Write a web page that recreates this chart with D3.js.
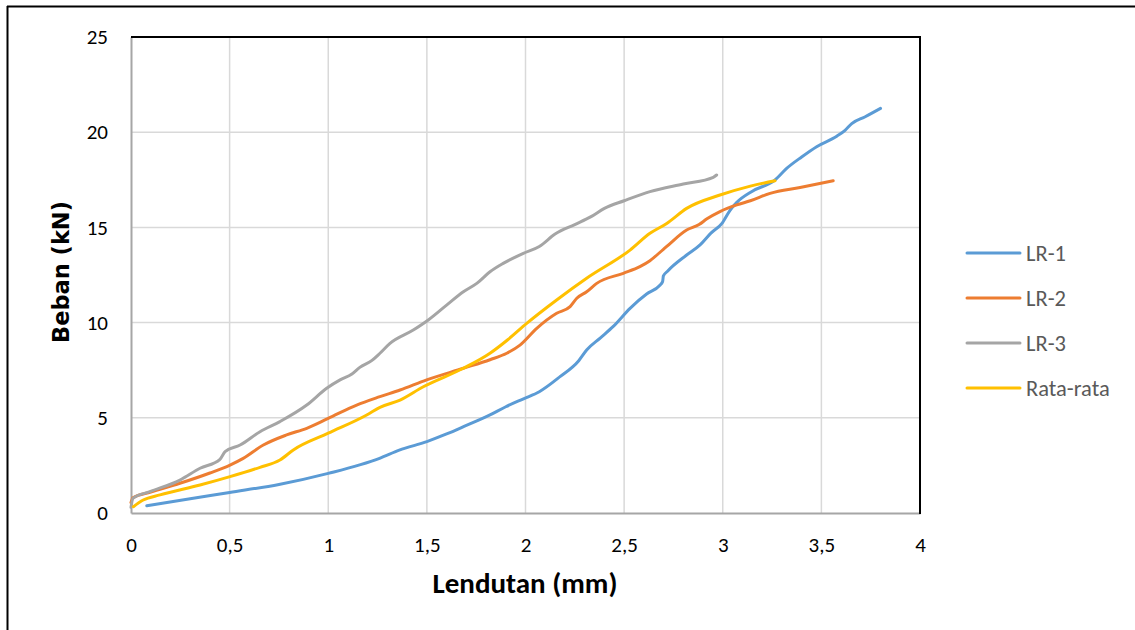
<!DOCTYPE html>
<html><head><meta charset="utf-8">
<script src="https://cdn.jsdelivr.net/npm/d3@7/dist/d3.min.js"></script>
<style>body{margin:0;background:#fff}svg{display:block}</style>
</head><body><svg id="c" width="1135" height="630"></svg>
<script>
const seriesNames = ["LR-1","LR-2","LR-3","Rata-rata"];
const seriesColors = ["#5B9BD5","#ED7D31","#A5A5A5","#FFC000"];
const xTicks = [0,0.5,1,1.5,2,2.5,3,3.5,4];
const yTicks = [0,5,10,15,20,25];
const lr1 = [[0.08,0.38],[0.3,0.75],[0.5,1.08],[0.75,1.5],[1.0,2.08],[1.26,2.87],[1.36,3.3],[1.5,3.75],[1.6,4.15],[1.7,4.6],[1.82,5.15],[1.9,5.58],[1.99,6.0],[2.07,6.37],[2.175,7.16],[2.27,8.0],[2.31,8.56],[2.38,9.2],[2.445,9.8],[2.53,10.75],[2.614,11.5],[2.68,11.95],[2.695,12.15],[2.699,12.45],[2.72,12.7],[2.817,13.55],[2.885,14.08],[2.94,14.7],[2.995,15.2],[3.037,15.9],[3.07,16.3],[3.15,16.9],[3.265,17.49],[3.324,18.1],[3.4,18.7],[3.476,19.24],[3.58,19.8],[3.62,20.1],[3.654,20.45],[3.72,20.8],[3.8,21.25]];
const lr2 = [[0.0,0.55],[0.01,0.8],[0.1,1.1],[0.248,1.56],[0.4,2.1],[0.502,2.52],[0.569,2.87],[0.671,3.57],[0.789,4.1],[0.891,4.45],[1.0,4.97],[1.144,5.67],[1.262,6.11],[1.364,6.46],[1.499,6.99],[1.685,7.6],[1.82,8.05],[1.905,8.39],[1.972,8.82],[2.057,9.7],[2.158,10.49],[2.226,10.84],[2.26,11.28],[2.31,11.62],[2.361,12.06],[2.496,12.59],[2.58,12.94],[2.631,13.25],[2.699,13.85],[2.716,14.0],[2.817,14.86],[2.88,15.15],[2.92,15.45],[2.986,15.83],[3.071,16.18],[3.14,16.4],[3.24,16.79],[3.392,17.1],[3.56,17.45]];
const lr3 = [[0.0,0.3],[0.01,0.77],[0.096,1.12],[0.248,1.73],[0.35,2.35],[0.451,2.82],[0.477,3.22],[0.553,3.57],[0.654,4.27],[0.755,4.8],[0.891,5.67],[0.992,6.55],[1.06,6.99],[1.12,7.3],[1.16,7.65],[1.22,8.0],[1.262,8.39],[1.313,8.91],[1.431,9.61],[1.507,10.14],[1.6,10.92],[1.685,11.62],[1.753,12.06],[1.82,12.67],[1.887,13.11],[1.989,13.64],[2.07,14.0],[2.15,14.65],[2.25,15.15],[2.33,15.55],[2.4,16.0],[2.5,16.4],[2.631,16.88],[2.8,17.28],[2.952,17.63],[2.969,17.75]];
const avg = [[0.012,0.33],[0.062,0.68],[0.147,0.95],[0.35,1.47],[0.502,1.91],[0.654,2.4],[0.755,2.78],[0.823,3.31],[1.0,4.19],[1.195,5.15],[1.262,5.55],[1.364,5.93],[1.482,6.63],[1.685,7.6],[1.82,8.39],[1.91,9.1],[2.006,9.96],[2.158,11.19],[2.31,12.33],[2.53,13.81],[2.631,14.69],[2.716,15.21],[2.817,16.0],[2.986,16.7],[3.14,17.17],[3.265,17.45]];
const allSeries = [lr1, lr2, lr3, avg];

const svg = d3.select("#c");
const m = {l:131, t:37, r:920, b:513};
const x = d3.scaleLinear().domain([0,4]).range([m.l, m.r]);
const y = d3.scaleLinear().domain([0,25]).range([m.b, m.t]);
const fmt = d => String(d).replace(".", ",");
const font = "Calibri, Carlito, 'Open Sans', sans-serif";

// outer frame
svg.append("line").attr("x1",7).attr("x2",1135).attr("y1",6.5).attr("y2",6.5).attr("stroke","#000").attr("stroke-width",2);
svg.append("line").attr("x1",7.5).attr("x2",7.5).attr("y1",6).attr("y2",630).attr("stroke","#000").attr("stroke-width",2);

// gridlines
svg.append("g").selectAll("line").data(xTicks.slice(1,-1)).join("line")
  .attr("x1",d=>x(d)).attr("x2",d=>x(d)).attr("y1",m.t).attr("y2",m.b)
  .attr("stroke","#d9d9d9").attr("stroke-width",1.5);
svg.append("g").selectAll("line").data(yTicks.slice(1,-1)).join("line")
  .attr("y1",d=>y(d)).attr("y2",d=>y(d)).attr("x1",m.l).attr("x2",m.r)
  .attr("stroke","#d9d9d9").attr("stroke-width",1.5);

// axes
const xAxis = svg.append("g").attr("transform",`translate(0,${m.b})`)
  .call(d3.axisBottom(x).tickValues(xTicks).tickFormat(fmt).tickSize(0).tickPadding(24));
const yAxis = svg.append("g").attr("transform",`translate(${m.l},0)`)
  .call(d3.axisLeft(y).tickValues(yTicks).tickSize(0).tickPadding(23));
[xAxis,yAxis].forEach(a=>{
  a.select(".domain").attr("stroke","#a6a6a6").attr("stroke-width",2);
  a.selectAll("text").attr("font-family",font).attr("font-size",21).attr("fill","#000");
});
// top & right borders
svg.append("line").attr("x1",m.l).attr("x2",m.r+1).attr("y1",m.t).attr("y2",m.t).attr("stroke","#000").attr("stroke-width",2);
svg.append("line").attr("x1",m.r).attr("x2",m.r).attr("y1",m.t).attr("y2",m.b+1).attr("stroke","#000").attr("stroke-width",2);

// lines
const line = d3.line().x(d=>x(d[0])).y(d=>y(d[1])).curve(d3.curveMonotoneX);
allSeries.forEach((s,i)=>{
  svg.append("path").datum(s).attr("d",line).attr("fill","none")
    .attr("stroke",seriesColors[i]).attr("stroke-width",3).attr("stroke-linecap","round").attr("stroke-linejoin","round");
});

// titles
svg.append("text").attr("x",525).attr("y",593).attr("text-anchor","middle")
  .attr("font-family",font).attr("font-weight","bold").attr("font-size",29).text("Lendutan (mm)");
svg.append("text").attr("transform","translate(69,272) rotate(-90)").attr("text-anchor","middle")
  .attr("font-family","'DejaVu Sans', Verdana, sans-serif").attr("font-weight","bold").attr("font-size",22.5).text("Beban (kN)");

// legend
const lg = svg.append("g").selectAll("g").data(seriesNames).join("g")
  .attr("transform",(d,i)=>`translate(967,${253+i*45})`);
lg.append("line").attr("x1",0).attr("x2",53).attr("stroke",(d,i)=>seriesColors[i]).attr("stroke-width",3).attr("stroke-linecap","round");
lg.append("text").attr("x",59).attr("dy","0.35em").attr("font-family",font).attr("font-size",22.5).attr("fill","#595959").text(d=>d);
</script></body></html>
